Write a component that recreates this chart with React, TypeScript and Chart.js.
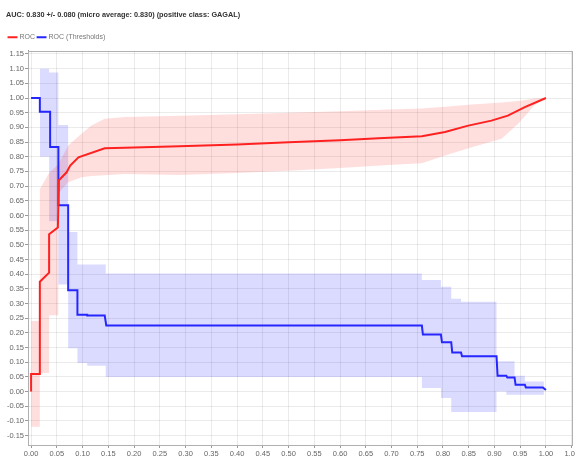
import React, { useEffect, useRef } from "react";
import { Chart, registerables } from "chart.js";

Chart.register(...registerables);

const TITLE = "AUC: 0.830 +/- 0.080 (micro average: 0.830) (positive class: GAGAL)";
const SERIES_NAMES = ["ROC", "ROC (Thresholds)"];

const X_TICKS = [
  "0.00", "0.05", "0.10", "0.15", "0.20", "0.25", "0.30", "0.35", "0.40", "0.45", "0.50",
  "0.55", "0.60", "0.65", "0.70", "0.75", "0.80", "0.85", "0.90", "0.95", "1.00", "1.05",
];
const Y_TICKS = [
  "-0.15", "-0.10", "-0.05", "0.00", "0.05", "0.10", "0.15", "0.20", "0.25", "0.30", "0.35",
  "0.40", "0.45", "0.50", "0.55", "0.60", "0.65", "0.70", "0.75", "0.80", "0.85", "0.90",
  "0.95", "1.00", "1.05", "1.10", "1.15",
];

// ROC curve (red)
const rocX = [0, 0, 0.017, 0.017, 0.035, 0.035, 0.052, 0.054, 0.069, 0.076, 0.092, 0.143, 0.182, 0.288, 0.40, 0.50, 0.60, 0.675, 0.759, 0.804, 0.849, 0.894, 0.926, 0.959, 1.0];
const rocY = [0, 0.06, 0.06, 0.374, 0.405, 0.536, 0.559, 0.72, 0.747, 0.77, 0.798, 0.829, 0.831, 0.836, 0.842, 0.849, 0.856, 0.863, 0.870, 0.884, 0.906, 0.923, 0.94, 0.969, 1.0];

// ROC band (red, +/- std)
const rocBandX = [0, 0.017, 0.017, 0.035, 0.035, 0.053, 0.053, 0.072, 0.098, 0.117, 0.143, 0.182, 0.288, 0.40, 0.50, 0.60, 0.694, 0.759, 0.804, 0.856, 0.914, 0.946, 0.978, 1.0];
const rocBandLow = [-0.12, -0.12, 0.063, 0.063, 0.26, 0.26, 0.675, 0.713, 0.73, 0.734, 0.737, 0.741, 0.738, 0.745, 0.752, 0.762, 0.772, 0.778, 0.804, 0.832, 0.861, 0.912, 0.975, 1.0];
const rocBandHigh = [0.24, 0.24, 0.69, 0.745, 0.745, 0.775, 0.775, 0.838, 0.878, 0.906, 0.929, 0.935, 0.94, 0.945, 0.95, 0.955, 0.961, 0.964, 0.97, 0.978, 0.985, 0.99, 0.998, 1.0];

// ROC thresholds (blue)
const thrX = [0, 0.017, 0.017, 0.037, 0.037, 0.053, 0.053, 0.072, 0.072, 0.090, 0.090, 0.109, 0.109, 0.143, 0.146, 0.759, 0.761, 0.796, 0.798, 0.816, 0.818, 0.835, 0.837, 0.904, 0.906, 0.923, 0.925, 0.939, 0.941, 0.959, 0.961, 0.994, 1.0];
const thrY = [1.0, 1.0, 0.953, 0.953, 0.833, 0.833, 0.635, 0.635, 0.345, 0.345, 0.262, 0.262, 0.259, 0.259, 0.225, 0.225, 0.194, 0.194, 0.168, 0.168, 0.133, 0.133, 0.12, 0.12, 0.054, 0.054, 0.048, 0.048, 0.023, 0.023, 0.014, 0.014, 0.005];

// Thresholds band (blue)
const thrBandX = [0.017, 0.035, 0.035, 0.053, 0.053, 0.072, 0.072, 0.090, 0.090, 0.109, 0.109, 0.145, 0.145, 0.759, 0.759, 0.796, 0.796, 0.816, 0.816, 0.835, 0.835, 0.904, 0.904, 0.923, 0.923, 0.939, 0.939, 0.959, 0.959, 0.996];
const thrBandLow = [0.80, 0.80, 0.58, 0.58, 0.365, 0.365, 0.148, 0.148, 0.097, 0.097, 0.088, 0.088, 0.05, 0.05, 0.012, 0.012, -0.022, -0.022, -0.07, -0.07, -0.07, -0.07, 0.0, 0.0, -0.011, -0.011, -0.011, -0.011, -0.011, -0.011];
const thrBandHigh = [1.10, 1.10, 1.087, 1.087, 0.908, 0.908, 0.544, 0.544, 0.433, 0.433, 0.433, 0.433, 0.402, 0.402, 0.38, 0.38, 0.357, 0.357, 0.316, 0.316, 0.306, 0.306, 0.103, 0.103, 0.103, 0.103, 0.054, 0.054, 0.034, 0.034];

const pts = (xs: number[], ys: number[]) => xs.map((x, i) => ({ x, y: ys[i] }));

const FONT = "'Liberation Sans Narrow', 'Liberation Sans', Arial, sans-serif";
const GRID = "rgba(0,0,0,0.08)";

const outlinePlugin = {
  id: "plotOutline",
  afterDraw(chart: any) {
    const { ctx, chartArea } = chart;
    ctx.save();
    ctx.strokeStyle = "#b0b0b0";
    ctx.lineWidth = 1;
    ctx.strokeRect(
      Math.round(chartArea.left) + 0.5,
      Math.round(chartArea.top) + 0.5,
      Math.round(chartArea.right - chartArea.left),
      Math.round(chartArea.bottom - chartArea.top)
    );
    ctx.restore();
  },
};

export default function App() {
  const ref = useRef<HTMLCanvasElement | null>(null);

  useEffect(() => {
    if (!ref.current) return;
    Chart.defaults.font.family = FONT;
    const chart = new Chart(ref.current, {
      type: "line",
      data: {
        datasets: [
          {
            label: SERIES_NAMES[0],
            data: pts(rocX, rocY),
            borderColor: "#ff2020",
            backgroundColor: "#ff2020",
            borderWidth: 2,
            pointRadius: 0,
            fill: false,
          },
          {
            label: SERIES_NAMES[1],
            data: pts(thrX, thrY),
            borderColor: "#2626ff",
            backgroundColor: "#2626ff",
            borderWidth: 2,
            pointRadius: 0,
            fill: false,
          },
          {
            label: "rocHigh",
            data: pts(rocBandX, rocBandHigh),
            borderWidth: 0,
            borderColor: "rgba(0,0,0,0)",
            backgroundColor: "rgba(255,0,0,0.13)",
            pointRadius: 0,
            fill: "+1",
          },
          {
            label: "rocLow",
            data: pts(rocBandX, rocBandLow),
            borderWidth: 0,
            borderColor: "rgba(0,0,0,0)",
            pointRadius: 0,
            fill: false,
          },
          {
            label: "thrHigh",
            data: pts(thrBandX, thrBandHigh),
            borderWidth: 0,
            borderColor: "rgba(0,0,0,0)",
            backgroundColor: "rgba(0,0,255,0.14)",
            pointRadius: 0,
            fill: "+1",
          },
          {
            label: "thrLow",
            data: pts(thrBandX, thrBandLow),
            borderWidth: 0,
            borderColor: "rgba(0,0,0,0)",
            pointRadius: 0,
            fill: false,
          },
        ],
      },
      options: {
        animation: false,
        responsive: false,
        maintainAspectRatio: false,
        layout: { padding: { left: 6, right: 0, top: 0, bottom: 0 } },
        plugins: {
          title: {
            display: true,
            text: TITLE,
            align: "start",
            color: "#333",
            font: { size: 7.3, weight: "bold", family: FONT },
            padding: { top: 11, bottom: 11 },
          },
          legend: {
            display: true,
            align: "start",
            labels: {
              usePointStyle: true,
              pointStyle: "line",
              color: "#777",
              font: { size: 7, family: FONT },
              padding: 3,
              boxWidth: 9,
              filter: (item: any) => SERIES_NAMES.includes(item.text),
            },
          },
          tooltip: { enabled: false },
        },
        scales: {
          x: {
            type: "linear",
            min: -0.006,
            max: 1.05,
            afterBuildTicks: (scale: any) => {
              scale.ticks = X_TICKS.map((s) => ({ value: parseFloat(s) }));
            },
            afterFit: (scale: any) => {
              scale.height = 17;
            },
            ticks: {
              autoSkip: false,
              maxRotation: 0,
              color: "#666",
              padding: 1,
              font: { size: 7.5, family: FONT },
              callback: (v: any) => Number(v).toFixed(2),
            },
            grid: {
              color: GRID,
              borderDash: [2, 2],
              tickLength: 3,
              tickColor: "#999",
              tickBorderDash: [],
            },
            border: { display: true, color: "#999", dash: [] },
          },
          y: {
            type: "linear",
            min: -0.182,
            max: 1.161,
            afterBuildTicks: (scale: any) => {
              scale.ticks = Y_TICKS.map((s) => ({ value: parseFloat(s) }));
            },
            afterFit: (scale: any) => {
              scale.width = 22;
            },
            ticks: {
              autoSkip: false,
              color: "#666",
              padding: 1,
              font: { size: 7.5, family: FONT },
              callback: (v: any) => Number(v).toFixed(2),
            },
            grid: {
              color: GRID,
              borderDash: [2, 2],
              tickLength: 3,
              tickColor: "#999",
              tickBorderDash: [],
            },
            border: { display: true, color: "#999", dash: [] },
          },
        },
      } as any,
      plugins: [outlinePlugin],
    });
    return () => chart.destroy();
  }, []);

  return (
    <div style={{ position: "fixed", left: 0, top: 0, width: 575, height: 462, overflow: "hidden", background: "#fff" }}>
      <canvas ref={ref} width={580} height={462} style={{ display: "block", width: 580, height: 462 }} />
    </div>
  );
}
